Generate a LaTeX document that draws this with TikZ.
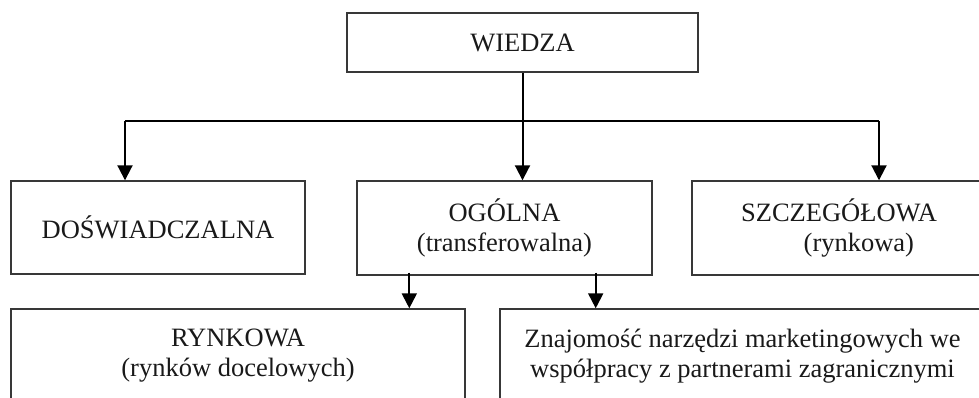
\documentclass[tikz,border=0pt]{standalone}
\usepackage{fontspec}
\setmainfont{Liberation Serif}
\usetikzlibrary{arrows.meta}
\begin{document}
\begin{tikzpicture}[x=1pt,y=-1pt,
  box/.style={draw=black!78, line width=1.4pt, rectangle, inner sep=0pt,
    align=center, text=black!90, font=\fontsize{26.5}{30}\selectfont},
  arr/.style={line width=2pt, -{Triangle[length=15pt,width=15pt]}},
  link/.style={line width=2pt}]
  \useasboundingbox (0,0) rectangle (979,398);
  \clip (0,0) rectangle (979,398);

  % top level
  \node[box, minimum width=351pt, minimum height=59pt] (wiedza) at (522.5,42.5) {WIEDZA};

  % second level
  \node[box, minimum width=294pt, minimum height=93pt] (dosw) at (158,227.5) {DOŚWIADCZALNA};
  \node[box, minimum width=295pt, minimum height=94pt] (ogolna) at (504.5,228) {OGÓLNA\\(transferowalna)};
  \node[box, minimum width=294pt, minimum height=94pt] (szcz) at (839,228) {SZCZEGÓŁOWA\\\hspace*{1.5em}(rynkowa)};

  % third level
  \node[box, minimum width=454pt, minimum height=94pt] (rynk) at (238,356) {RYNKOWA\\(rynków docelowych)};
  \node[box, minimum width=485pt, minimum height=94pt] (znaj) at (742.5,356) {Znajomość narzędzi marketingowych we\\współpracy z partnerami zagranicznymi};

  % branching from the top box
  \coordinate (split) at (wiedza.south |- 0,121);
  \coordinate (splitL) at (dosw.north -| 125,0);
  \coordinate (splitR) at (szcz.north -| 879,0);
  \draw[link] (wiedza.south) -- (split);
  \draw[link] (splitL |- split) -- (splitR |- split);
  \draw[arr] (splitL |- split) -- (splitL);
  \draw[arr] (split) -- (split |- ogolna.north);
  \draw[arr] (splitR |- split) -- (splitR);

  % from the general box to the third level
  \coordinate (downL) at ([xshift=53pt,yshift=3pt]ogolna.south west);
  \coordinate (downR) at ([xshift=-57pt,yshift=3pt]ogolna.south east);
  \draw[arr] (downL) -- (downL |- rynk.north);
  \draw[arr] (downR) -- (downR |- znaj.north);
\end{tikzpicture}
\end{document}
